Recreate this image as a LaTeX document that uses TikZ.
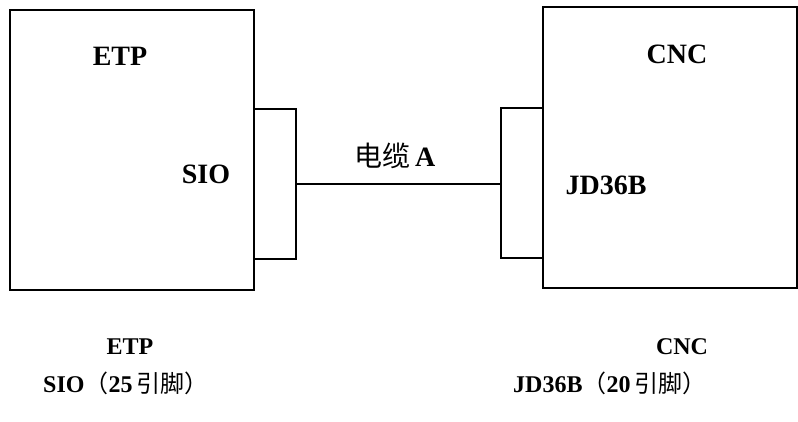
\documentclass[tikz,border=0pt]{standalone}
\usepackage{fontspec}
\setmainfont{Liberation Serif}
\newfontfamily\cjk{Noto Sans CJK SC}
\begin{document}
\begin{tikzpicture}[x=1pt,y=-1pt,
  lbl/.style={font=\fontsize{24}{28}\selectfont\bfseries,inner sep=0pt},
  biglbl/.style={font=\fontsize{28}{32}\selectfont\bfseries,inner sep=0pt}]
\useasboundingbox (0,0) rectangle (798,422);
\fill[white] (0,0) rectangle (798,422);
% main boxes
\draw[line width=1.4pt] (10,10) rectangle (254,290);
\node[anchor=north west,minimum width=244pt,minimum height=280pt,inner sep=0pt] (etp) at (10,10) {};
\draw[line width=1.4pt] (543,7) rectangle (797,288);
\node[anchor=north west,minimum width=254pt,minimum height=281pt,inner sep=0pt] (cnc) at (543,7) {};
% connectors
\draw[line width=1.4pt] (254,109) -- (296,109) -- (296,259) -- (254,259);
\node[anchor=north west,minimum width=42pt,minimum height=150pt,inner sep=0pt] (lc) at (254,109) {};
\draw[line width=1.4pt] (543,108) -- (501,108) -- (501,258) -- (543,258);
\node[anchor=north west,minimum width=42pt,minimum height=150pt,inner sep=0pt] (rc) at (501,108) {};
\draw[line width=1.4pt] (lc.east) -- (lc.east -| rc.west);
% labels
\node[biglbl] (t1) at (120,56) {ETP};
\node[biglbl] (t2) at (206,174) {SIO};
\node[biglbl] (t3) at (677,54) {CNC};
\node[biglbl] (t4) at (606,185) {JD36B};
\node[biglbl] (t5) at (395,156) {{\cjk\mdseries 电缆}\,A};
\node[lbl] (t6) at (130,347) {ETP};
\node[lbl,anchor=west] (t7) at (43,383) {SIO{\cjk\mdseries （}25\,{\cjk\mdseries 引脚）}};
\node[lbl] (t8) at (682,347) {CNC};
\node[lbl,anchor=west] (t9) at (513,383) {JD36B{\cjk\mdseries （}20\,{\cjk\mdseries 引脚）}};
\end{tikzpicture}
\end{document}
